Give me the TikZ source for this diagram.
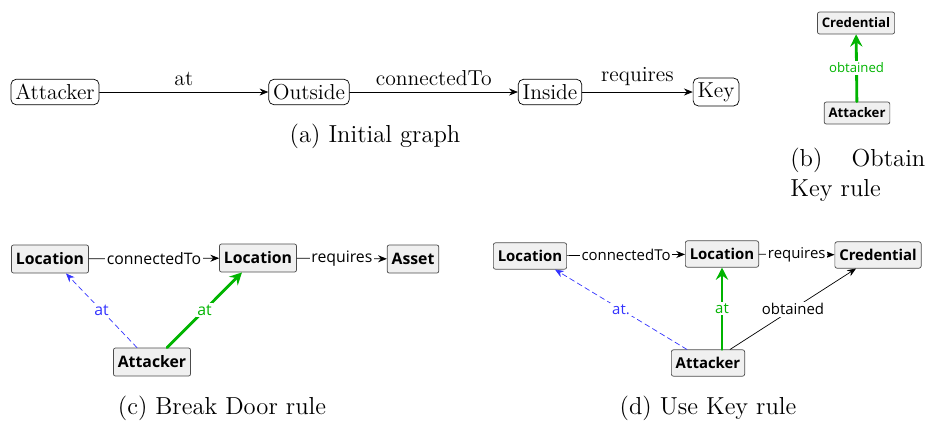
\documentclass[tikz,border=0pt]{standalone}
\usepackage{fontspec}
\newfontfamily\guifont{Open Sans}
\usetikzlibrary{arrows.meta,calc}
\definecolor{boxgray}{HTML}{F0F0F0}
\definecolor{rulegreen}{HTML}{00B400}
\definecolor{ruleblue}{HTML}{3333FF}

\begin{document}
\begin{tikzpicture}[x=0.02cm,y=-0.02cm,line cap=round,line join=round,
  plain/.style={draw,rounded corners=3pt,inner sep=2.5pt,minimum height=14.5pt,
    font=\fontsize{12.3}{14}\selectfont},
  gui/.style={draw=black!70,fill=boxgray,rounded corners=1.2pt,inner sep=2.5pt,
    minimum height=16pt,font=\guifont\bfseries\fontsize{9}{10}\selectfont},
  elabel/.style={fill=white,inner sep=1pt,font=\guifont\fontsize{9}{10}\selectfont},
  captext/.style={font=\fontsize{14}{17}\selectfont},
  tip/.style={-{Stealth[length=5pt,width=4pt]}},
  bigtip/.style={-{Stealth[length=7pt,width=7pt,inset=2.5pt]}}]
  \useasboundingbox (0,0) rectangle (925,420);
  % (a) initial graph
  \node[plain] (att) at (55,92) {Attacker};
  \node[plain] (out) at (309,92) {Outside};
  \node[plain] (ins) at (550,92) {Inside};
  \node[plain] (key) at (716,92) {Key};
  \draw[tip] (att) -- node[above,font=\fontsize{12.3}{14}\selectfont] {at} (out);
  \draw[tip] (out) -- node[above,font=\fontsize{12.3}{14}\selectfont] {connectedTo} (ins);
  \draw[tip] (ins) -- node[above,font=\fontsize{12.3}{14}\selectfont] {requires} (key);
  \node[captext] (capa) at (375,136) {(a) Initial graph};
  % (b) obtain key rule
  \node[gui,font=\guifont\bfseries\fontsize{7.5}{9}\selectfont,minimum height=12.5pt] (bcred) at (856,23) {Credential};
  \node[gui,font=\guifont\bfseries\fontsize{7.5}{9}\selectfont,minimum height=12.5pt] (batt) at (857,113) {Attacker};
  \draw[rulegreen,line width=1.6pt,bigtip] (batt) -- node[elabel,text=rulegreen,font=\guifont\fontsize{7.5}{9}\selectfont] {obtained} (bcred);
  \node[captext,text width=2.7cm,anchor=north west,inner sep=0pt,align=left] (capb) at (790,148)
    {(b)\hfill Obtain\\Key rule};
  % (c) break door rule
  \node[gui] (cloc1) at (50,259) {Location};
  \node[gui] (cloc2) at (258,258) {Location};
  \node[gui] (casset) at (413,259) {Asset};
  \node[gui] (catt) at (152,362) {Attacker};
  \draw[tip] (cloc1) -- node[elabel] {connectedTo} (cloc2);
  \draw[tip] (cloc2) -- node[elabel] {requires} (casset);
  \draw[ruleblue,densely dashed,tip] ($(catt.north)+(-15,0)$) -- node[elabel,text=ruleblue] {at} ($(cloc1.south)+(16,0)$);
  \draw[rulegreen,line width=1.6pt,bigtip] ($(catt.north)+(15,0)$) -- node[elabel,text=rulegreen] {at} ($(cloc2.south)+(-16,0)$);
  \node[captext] (capc) at (222,408) {(c) Break Door rule};
  % (d) use key rule
  \node[gui,font=\guifont\bfseries\fontsize{8.5}{10}\selectfont,minimum height=15pt] (dloc1) at (530,256) {Location};
  \node[gui,font=\guifont\bfseries\fontsize{8.5}{10}\selectfont,minimum height=15pt] (dloc2) at (722,254) {Location};
  \node[gui,font=\guifont\bfseries\fontsize{8.5}{10}\selectfont,minimum height=15pt] (dcred) at (878,255) {Credential};
  \node[gui,font=\guifont\bfseries\fontsize{8.5}{10}\selectfont,minimum height=15pt] (datt) at (708,363) {Attacker};
  \draw[tip] (dloc1) -- node[elabel,font=\guifont\fontsize{8.5}{10}\selectfont] {connectedTo} (dloc2);
  \draw[tip] (dloc2) -- node[elabel,font=\guifont\fontsize{8.5}{10}\selectfont] {requires} (dcred);
  \draw[ruleblue,densely dashed,tip] ($(datt.north)+(-21,0)$) -- node[elabel,text=ruleblue,font=\guifont\fontsize{8.5}{10}\selectfont] {at.} ($(dloc1.south)+(25,0)$);
  \draw[rulegreen,line width=1.6pt,bigtip] ($(datt.north)+(14,0)$) -- node[elabel,text=rulegreen,font=\guifont\fontsize{8.5}{10}\selectfont] {at} (dloc2.south);
  \draw[tip] ($(datt.north)+(22,0)$) -- node[elabel,font=\guifont\fontsize{8.5}{10}\selectfont] {obtained} ($(dcred.south)+(-22,0)$);
  \node[captext] (capd) at (708,408) {(d) Use Key rule};
\end{tikzpicture}
\end{document}
